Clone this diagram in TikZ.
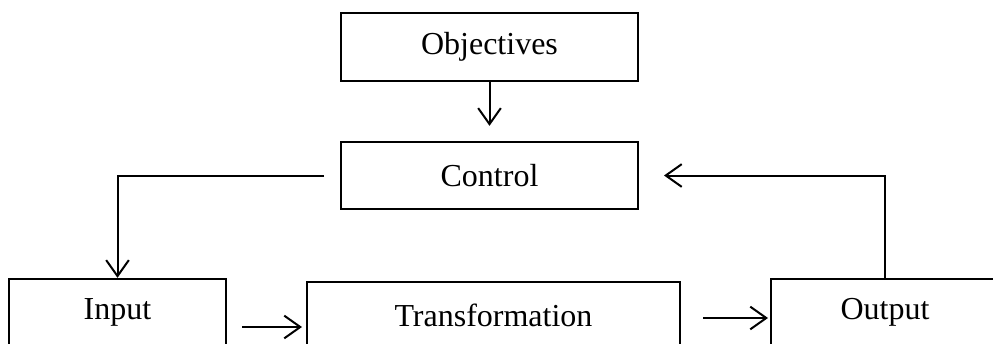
\documentclass[tikz,border=0pt]{standalone}
\usepackage{fontspec}
\setmainfont{Liberation Serif}
\usetikzlibrary{arrows.meta,calc}
\begin{document}
\begin{tikzpicture}[x=0.75pt,y=-0.75pt,
  box/.style={draw,line width=1.5pt,minimum height=50.5pt,inner sep=0pt,
    font=\fontsize{24}{28}\selectfont},
  conn/.style={draw,line width=1.5pt,
    -{Straight Barb[length=12pt,width=17pt]}},
]
\useasboundingbox (0,0) rectangle (993,343);
\clip (0,0) rectangle (993,343);

% boxes
\node[box,minimum width=222.75pt] (obj)   at (489.5,47)    {Objectives};
\node[box,minimum width=222.75pt] (ctrl)  at (489.5,175.5) {Control};
\node[box,minimum width=162.75pt] (input) at (117.5,312.5) {Input};
\node[box,minimum width=279.75pt] (trans) at (493.5,315.5) {Transformation};
\node[box,minimum width=171pt]    (out)   at (885,312.5)   {Output};

% row heights of the lower arrows
\coordinate (r1) at (0,327);
\coordinate (r2) at (0,318);

% connectors
\path[conn,shorten >=11.25pt] (obj.south) -- (ctrl.north);
\path[conn] ([xshift=-12pt]ctrl.west) -| (input.north);
\path[conn] (out.north) |- ([xshift=18.75pt]ctrl.east);
\path[conn] ($(input.east |- r1)+(15,0)$) -- ($(trans.west |- r1)+(-4,0)$);
\path[conn] ($(trans.east |- r2)+(22,0)$) -- ($(out.west |- r2)+(-2,0)$);
\end{tikzpicture}
\end{document}
